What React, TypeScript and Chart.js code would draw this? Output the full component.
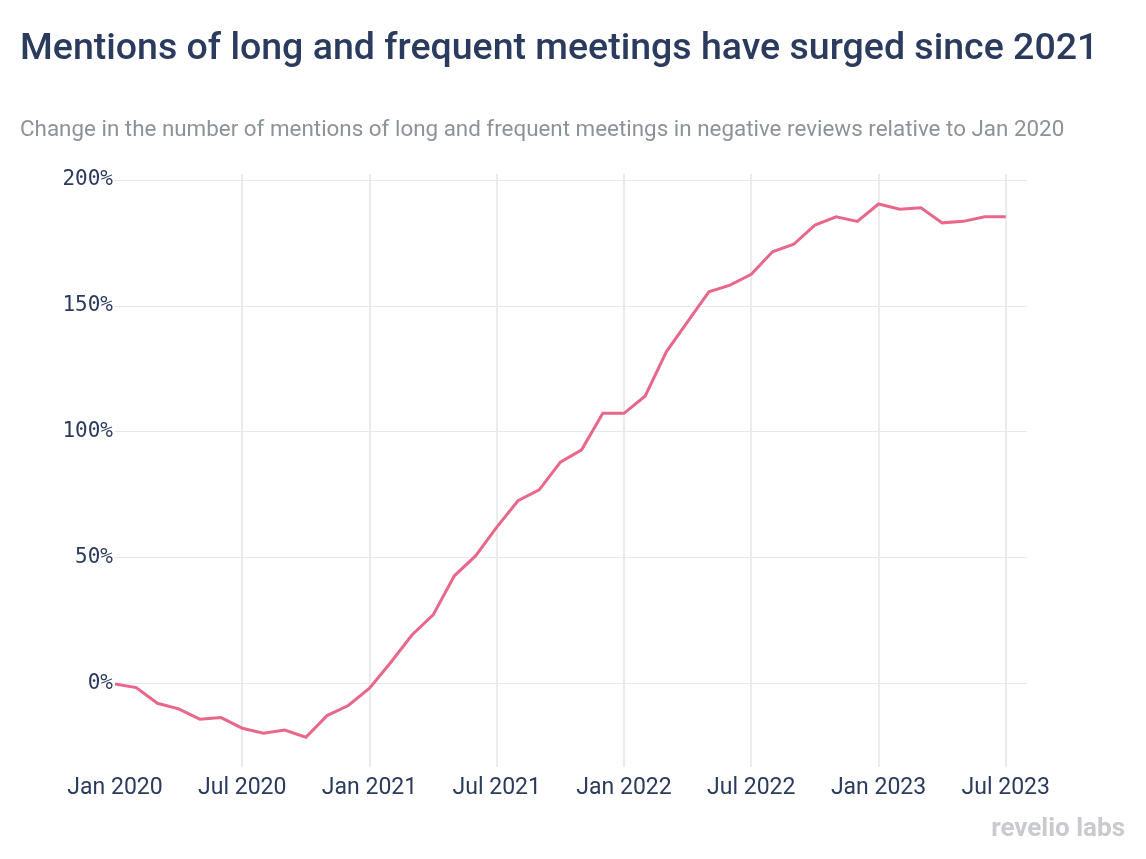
import React, { useEffect, useRef } from "react";
import { Chart, registerables } from "chart.js";

Chart.register(...registerables);

const monthLabels: string[] = [
  "Jan 2020","Feb 2020","Mar 2020","Apr 2020","May 2020","Jun 2020","Jul 2020","Aug 2020","Sep 2020","Oct 2020","Nov 2020","Dec 2020",
  "Jan 2021","Feb 2021","Mar 2021","Apr 2021","May 2021","Jun 2021","Jul 2021","Aug 2021","Sep 2021","Oct 2021","Nov 2021","Dec 2021",
  "Jan 2022","Feb 2022","Mar 2022","Apr 2022","May 2022","Jun 2022","Jul 2022","Aug 2022","Sep 2022","Oct 2022","Nov 2022","Dec 2022",
  "Jan 2023","Feb 2023","Mar 2023","Apr 2023","May 2023","Jun 2023","Jul 2023",
];

const changeValues: number[] = [
  0, -1.5, -7.7, -9.9, -14, -13.4, -17.6, -19.6, -18.3, -21.2, -12.6, -8.6,
  -1.7, 8.5, 19.4, 27.4, 42.9, 50.8, 62.2, 72.7, 77, 88, 92.9, 107.4,
  107.4, 114.3, 131.9, 143.8, 155.6, 158.3, 162.6, 171.5, 174.5, 182.1, 185.4, 183.6,
  190.5, 188.4, 189, 183, 183.6, 185.4, 185.4,
];

const xTickIndexes: number[] = [0, 6, 12, 18, 24, 30, 36, 42];
const yTickValues: number[] = [0, 50, 100, 150, 200];

const NAVY = "#2b3b5e";

export default function App() {
  const canvasRef = useRef<HTMLCanvasElement | null>(null);

  useEffect(() => {
    if (!canvasRef.current) return;
    const points = changeValues.map((v, i) => ({ x: i, y: v }));
    const chart = new Chart(canvasRef.current, {
      type: "line",
      data: {
        datasets: [
          {
            label: "Change",
            data: points,
            borderColor: "#e8678a",
            borderWidth: 3,
            pointRadius: 0,
            tension: 0,
            fill: false,
          },
        ],
      },
      options: {
        animation: false,
        responsive: false,
        maintainAspectRatio: false,
        layout: { padding: { left: 0, right: 119, top: 174, bottom: 52 } },
        plugins: { legend: { display: false }, tooltip: { enabled: false } },
        scales: {
          x: {
            type: "linear",
            min: 0,
            max: 43,
            border: { display: false },
            grid: {
              color: (ctx: any) => (ctx.tick && ctx.tick.value === 0 ? "rgba(0,0,0,0)" : "#ebebef"),
              lineWidth: 2,
              drawTicks: false,
            },
            afterBuildTicks: (scale: any) => {
              scale.ticks = xTickIndexes.map((v) => ({ value: v }));
            },
            afterFit: (scale: any) => {
              scale.height = 40;
            },
            ticks: {
              padding: 7,
              maxRotation: 0,
              autoSkip: false,
              color: NAVY,
              font: { family: "Roboto", size: 23 },
              callback: (v: any) => monthLabels[Number(v)] ?? "",
            },
          },
          y: {
            type: "linear",
            min: -33,
            max: 202.4,
            border: { display: false },
            grid: { color: "#e8e8ec", lineWidth: 1, drawTicks: false },
            afterBuildTicks: (scale: any) => {
              scale.ticks = yTickValues.map((v) => ({ value: v }));
            },
            afterFit: (scale: any) => {
              scale.width = 115;
            },
            ticks: {
              padding: 2,
              color: NAVY,
              font: { family: "DejaVu Sans Mono", size: 21 },
              callback: (v: any) => `${v}%`,
            },
          },
        },
      },
    });
    return () => chart.destroy();
  }, []);

  return (
    <div style={{ position: "absolute", left: 0, top: 0, width: 1146, height: 859, background: "#fff", overflow: "hidden" }}>
      <canvas ref={canvasRef} width={1146} height={859} style={{ position: "absolute", left: 0, top: 0, width: 1146, height: 859 }} />
      <div style={{ position: "absolute", left: 20, top: 22, fontFamily: "Roboto", fontWeight: 500, fontSize: 37.5, color: NAVY, whiteSpace: "nowrap", lineHeight: "48px" }}>
        Mentions of long and frequent meetings have surged since 2021
      </div>
      <div style={{ position: "absolute", left: 20, top: 114, fontFamily: "Roboto", fontSize: 22.4, color: "#8c9299", whiteSpace: "nowrap", lineHeight: "28px" }}>
        Change in the number of mentions of long and frequent meetings in negative reviews relative to Jan 2020
      </div>
      <div style={{ position: "absolute", right: 21, top: 811, fontFamily: "Roboto", fontWeight: 700, fontSize: 26, color: "#c9cacf", whiteSpace: "nowrap", lineHeight: "32px" }}>
        revelio labs
      </div>
    </div>
  );
}
